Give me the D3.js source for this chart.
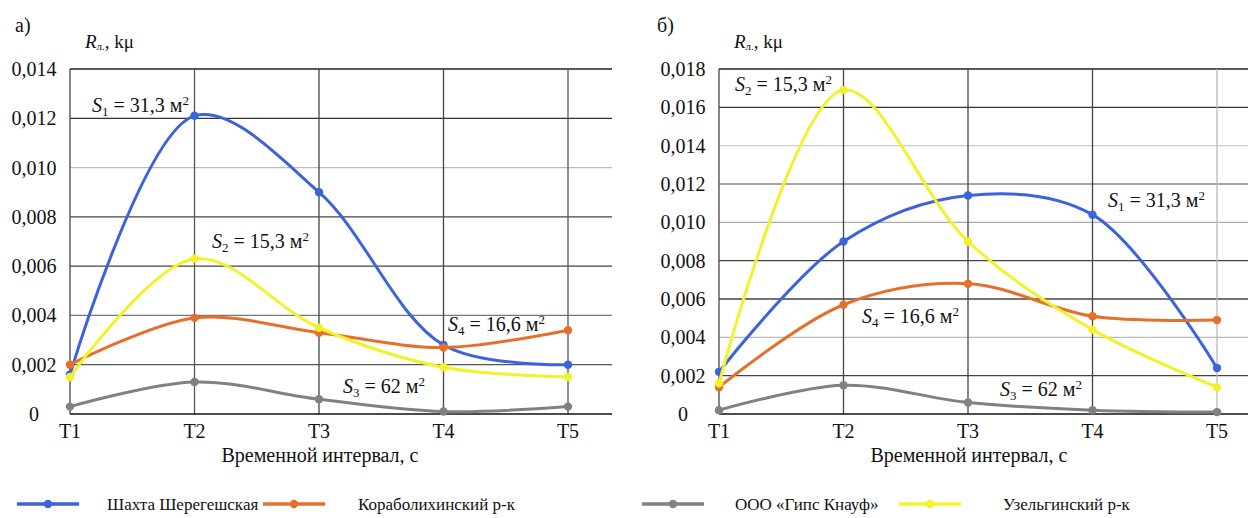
<!DOCTYPE html>
<html><head><meta charset="utf-8">
<script src="https://cdn.jsdelivr.net/npm/d3@7"></script>
<style>
body{margin:0;background:#fff;}
svg text{font-family:"Liberation Serif","Times New Roman","DejaVu Serif",serif;fill:#111;}
</style></head>
<body><svg id="c" width="1250" height="518"></svg>
<script>
const categories = ["T1","T2","T3","T4","T5"];
const seriesNames = ["Шахта Шерегешская","Кораболихинский р-к","ООО «Гипс Кнауф»","Узельгинский р-к"];
// panel а)
const aShakhta = [0.0016, 0.0121, 0.0090, 0.0028, 0.0020];
const aKorab   = [0.0020, 0.0039, 0.0033, 0.0027, 0.0034];
const aGips    = [0.0003, 0.0013, 0.0006, 0.0001, 0.0003];
const aUzel    = [0.0015, 0.0063, 0.0035, 0.0019, 0.0015];
const aTicks   = [0, 0.002, 0.004, 0.006, 0.008, 0.010, 0.012, 0.014];
// panel б)
const bShakhta = [0.0022, 0.0090, 0.0114, 0.0104, 0.0024];
const bKorab   = [0.0014, 0.0057, 0.0068, 0.0051, 0.0049];
const bGips    = [0.0002, 0.0015, 0.0006, 0.0002, 0.0001];
const bUzel    = [0.0016, 0.0169, 0.0090, 0.0044, 0.0014];
const bTicks   = [0, 0.002, 0.004, 0.006, 0.008, 0.010, 0.012, 0.014, 0.016, 0.018];
// annotations: [sub, value]
const aNotes = [["1","31,3"],["2","15,3"],["4","16,6"],["3","62"]];
const bNotes = [["2","15,3"],["1","31,3"],["4","16,6"],["3","62"]];

const colors = ["#3b63db","#e5702c","#818181","#f2f22a"];
const svg = d3.select("#c");

function fmt(v){ return v===0 ? "0" : d3.format(".3f")(v).replace(".", ","); }

function panel(o){
  const g = svg.append("g");
  const x = d3.scalePoint().domain(categories).range([o.x0, o.x0 + 498]);
  const y = d3.scaleLinear().domain([0, o.ticks[o.ticks.length-1]]).range([414, 69]);
  g.selectAll(".hg").data(o.ticks.slice(1)).join("line")
    .attr("x1", o.x0).attr("x2", o.x1)
    .attr("y1", d=>y(d)).attr("y2", d=>y(d))
    .attr("stroke", (d,i)=>o.hcol[i]).attr("stroke-width", 1.3);
  g.selectAll(".vg").data(categories.slice(1)).join("line")
    .attr("x1", d=>x(d)).attr("x2", d=>x(d))
    .attr("y1", 69).attr("y2", 414)
    .attr("stroke", (d,i)=>o.vcol[i]).attr("stroke-width", 1.3);
  g.append("line").attr("x1",o.x0).attr("x2",o.x0).attr("y1",69).attr("y2",414)
    .attr("stroke","#444").attr("stroke-width",1.3);
  g.append("line").attr("x1",o.x0).attr("x2",o.x1).attr("y1",414).attr("y2",414)
    .attr("stroke","#111").attr("stroke-width",1.6);
  g.selectAll(".yl").data(o.ticks).join("text")
    .attr("x", o.x0 - 36).attr("y", d=>y(d)+7)
    .attr("text-anchor","middle").attr("font-size",20).text(fmt);
  g.selectAll(".xl").data(categories).join("text")
    .attr("x", d=>x(d)).attr("y", 438)
    .attr("text-anchor","middle").attr("font-size",20).text(d=>d);
  g.append("text").attr("x",x("T3")+1).attr("y",462).attr("text-anchor","middle")
    .attr("font-size",20).text("Временной интервал, с");
  g.append("text").attr("x",o.lx).attr("y",32).attr("font-size",20).text(o.label);
  const t = g.append("text").attr("x",o.x0+15).attr("y",48).attr("font-size",19);
  t.append("tspan").attr("font-style","italic").text("R");
  t.append("tspan").attr("font-size",11).attr("dy",2).text("л.");
  t.append("tspan").attr("dy",-2).text(", kμ");
  const line = d3.line().x((d,i)=>x(categories[i])).y(d=>y(d)).curve(d3.curveCatmullRom.alpha(0.5));
  o.series.forEach((s,k)=>{
    g.append("path").attr("d", line(s)).attr("fill","none")
      .attr("stroke", colors[k]).attr("stroke-width", 3);
    g.selectAll(null).data(s).join("circle")
      .attr("cx",(d,i)=>x(categories[i])).attr("cy",d=>y(d)).attr("r",4.2)
      .attr("fill",colors[k]);
  });
  o.notes.forEach((n,i)=>{
    const p = o.notePos[i];
    const tt = g.append("text").attr("x",p[0]).attr("y",p[1]).attr("font-size",20);
    tt.append("tspan").attr("font-style","italic").text("S");
    tt.append("tspan").attr("font-size",13).attr("dy",4).text(n[0]);
    tt.append("tspan").attr("dy",-4).text(" = " + n[1] + " м");
    tt.append("tspan").attr("font-size",13).attr("dy",-7).text("2");
  });
}

panel({x0:70, x1:612, ticks:aTicks, label:"а)", lx:15,
  hcol:["#555","#777","#444","#444","#bbb","#333","#222"],
  vcol:["#555","#444","#444","#555"],
  series:[aShakhta,aKorab,aGips,aUzel], notes:aNotes,
  notePos:[[92,112],[212,248],[448,331],[343,393]]});
panel({x0:719, x1:1248, ticks:bTicks, label:"б)", lx:657,
  hcol:["#444","#bbb","#444","#444","#aaa","#888","#ccc","#333","#222"],
  vcol:["#444","#444","#444","#bbb"],
  series:[bShakhta,bKorab,bGips,bUzel], notes:bNotes,
  notePos:[[735,91],[1108,207],[862,323],[1000,396]]});

const legX = [17, 263, 642, 899];
const legT = [107, 358, 735, 1003];
seriesNames.forEach((nm,k)=>{
  const lg = svg.append("g");
  lg.append("line").attr("x1",legX[k]).attr("x2",legX[k]+62).attr("y1",504).attr("y2",504)
    .attr("stroke",colors[k]).attr("stroke-width",3.5);
  lg.append("circle").attr("cx",legX[k]+31).attr("cy",504).attr("r",4.2).attr("fill",colors[k]);
  lg.append("text").attr("x",legT[k]).attr("y",510).attr("font-size",17).text(nm);
});
</script></body></html>
